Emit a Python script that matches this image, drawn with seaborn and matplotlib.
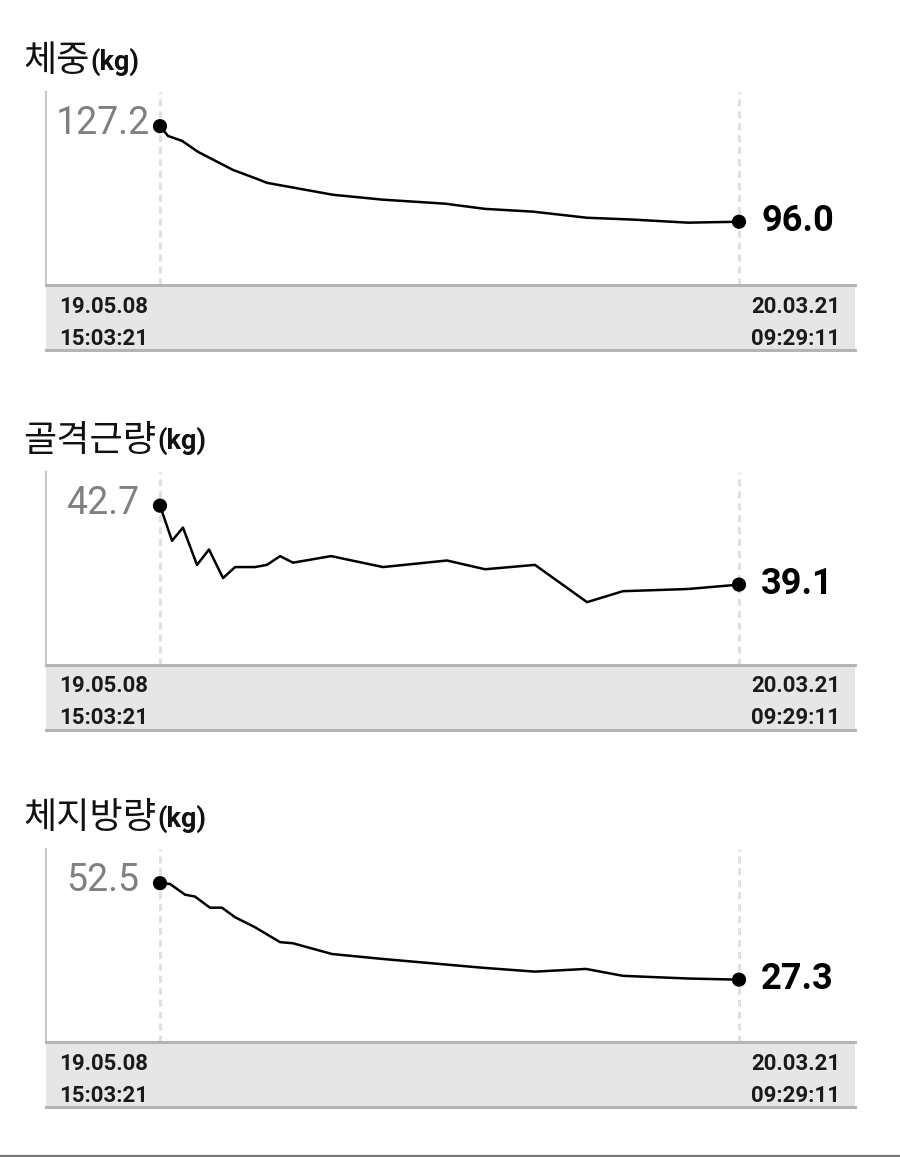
import matplotlib
matplotlib.use("Agg")
import matplotlib.pyplot as plt
import seaborn as sns
from matplotlib.lines import Line2D

# ---------------- data ----------------
titles = ["체중", "골격근량", "체지방량"]
unit = "(kg)"
start_date, start_time = "19.05.08", "15:03:21"
end_date, end_time = "20.03.21", "09:29:11"
total_days = 317.8

weight_days = [0, 4.4, 12.1, 20.9, 40.1, 53.2, 58.7, 95.0, 122.4, 156.4, 178.4,
               204.7, 234.4, 259.6, 289.8, 317.8]
weight_vals = [127.2, 124.0, 122.4, 118.8, 112.9, 110.0, 108.7, 104.8, 103.2, 101.9,
               100.2, 99.3, 97.3, 96.7, 95.7, 96.0]

muscle_days = [0, 6.6, 12.6, 20.3, 26.9, 34.6, 41.2, 52.1, 58.7, 65.9, 73.0, 93.9,
               122.4, 157.5, 178.4, 205.8, 234.4, 254.1, 289.8, 317.8]
muscle_vals = [42.7, 41.1, 41.7, 40.0, 40.7, 39.4, 39.9, 39.9, 40.0, 40.4, 40.1, 40.4,
               39.9, 40.2, 39.8, 40.0, 38.3, 38.8, 38.9, 39.1]

fat_days = [0, 5.5, 13.7, 19.2, 27.4, 34.0, 41.2, 52.1, 65.9, 73.0, 94.4, 122.4,
            177.3, 205.8, 233.8, 254.1, 289.8, 317.8]
fat_vals = [52.5, 52.3, 49.5, 49.0, 46.1, 46.1, 43.6, 41.0, 37.1, 36.8, 34.0, 32.7,
            30.4, 29.4, 30.1, 28.3, 27.6, 27.3]

series = [(weight_days, weight_vals), (muscle_days, muscle_vals), (fat_days, fat_vals)]

# ---------------- style ----------------
sns.set_theme(style="white")
plt.rcParams["font.family"] = ["Roboto", "Noto Sans CJK KR", "DejaVu Sans"]
plt.rcParams["lines.scale_dashes"] = False

W, H = 900, 1157
fig = plt.figure(figsize=(W / 100, H / 100), dpi=100)

AX_L, AX_R = 46, 855
X0_PX, X1_PX = 160, 739
px_per_day = (X1_PX - X0_PX) / total_days
xlim = (0 - (X0_PX - AX_L) / px_per_day, total_days + (AX_R - X1_PX) / px_per_day)

offsets = [0, 379.5, 757]


def fx(px):
    return px / W


def fy(py):
    return 1 - py / H


title_objs = []
for i, (days, vals) in enumerate(series):
    off = offsets[i]
    top, bar_top, bar_bot = 92 + off, 285 + off, 350 + off

    ax = fig.add_axes([fx(AX_L), fy(bar_top), fx(AX_R) - fx(AX_L), (bar_top - top) / H])
    ax.set_facecolor("white")
    for s in ["top", "right", "bottom"]:
        ax.spines[s].set_visible(False)
    ax.spines["left"].set_color("#c8c8c8")
    ax.spines["left"].set_linewidth(1.5)
    ax.set_xticks([])
    ax.set_yticks([])
    ax.set_xlim(*xlim)
    vmin, vmax = min(vals), max(vals)
    rng = vmax - vmin
    ax.set_ylim(vmin - 0.646 * rng, vmax + 0.354 * rng)

    for d in (days[0], days[-1]):
        ax.axvline(d, color="#e0e0e0", lw=2.2, dashes=(5, 3.6), zorder=1)

    sns.lineplot(x=days, y=vals, ax=ax, color="black", lw=1.8, zorder=3)
    sns.scatterplot(x=[days[0], days[-1]], y=[vals[0], vals[-1]], ax=ax, s=105,
                    color="black", edgecolor="none", zorder=4)

    ax.annotate(f"{vals[0]:.1f}", xy=(days[0], vals[0]), xytext=(-41.4, -6.0),
                textcoords="offset points", ha="center", va="baseline",
                color="#808080", fontsize=27, family="Roboto")
    ax.annotate(f"{vals[-1]:.1f}", xy=(days[-1], vals[-1]), xytext=(16.0, -6.4),
                textcoords="offset points", ha="left", va="baseline",
                color="black", fontsize=26, fontweight="bold", family="Roboto")

    # date bar
    bax = fig.add_axes([fx(AX_L), fy(bar_bot), fx(AX_R) - fx(AX_L), (bar_bot - bar_top) / H])
    bax.set_facecolor("#e6e6e6")
    bax.set_xticks([])
    bax.set_yticks([])
    for s in ["left", "right"]:
        bax.spines[s].set_visible(False)
    for s in ["top", "bottom"]:
        bax.spines[s].set_color("#b4b4b4")
        bax.spines[s].set_linewidth(2.2)
    lx = (59 - AX_L) / (AX_R - AX_L)
    rx = (840 - AX_L) / (AX_R - AX_L)
    y1 = (bar_bot - (312.7 + off)) / (bar_bot - bar_top)
    y2 = (bar_bot - (345 + off)) / (bar_bot - bar_top)
    kw = dict(transform=bax.transAxes, va="baseline", fontsize=16,
              fontweight="bold", color="#1a1a1a", family="Roboto")
    bax.text(lx, y1, start_date, ha="left", **kw)
    bax.text(lx, y2, start_time, ha="left", **kw)
    bax.text(rx, y1, end_date, ha="right", **kw)
    bax.text(rx, y2, end_time, ha="right", **kw)

    # title
    t = fig.text(fx(23), fy(71 + off), titles[i], fontsize=26, color="#111111",
                 family=["Noto Sans CJK KR", "DejaVu Sans"], va="baseline", ha="left")
    title_objs.append((t, off))

fig.canvas.draw()
renderer = fig.canvas.get_renderer()
for t, off in title_objs:
    bb = t.get_window_extent(renderer=renderer)
    fig.text(bb.x1 / W + 1 / W, fy(69.5 + off), unit, fontsize=19.5, fontweight="bold",
             color="#111111", family="Roboto", va="baseline", ha="left")

fig.add_artist(Line2D([0, 1], [fy(1156), fy(1156)], transform=fig.transFigure,
                      color="#777777", lw=1.6))

fig.savefig("out.png", dpi=100)
